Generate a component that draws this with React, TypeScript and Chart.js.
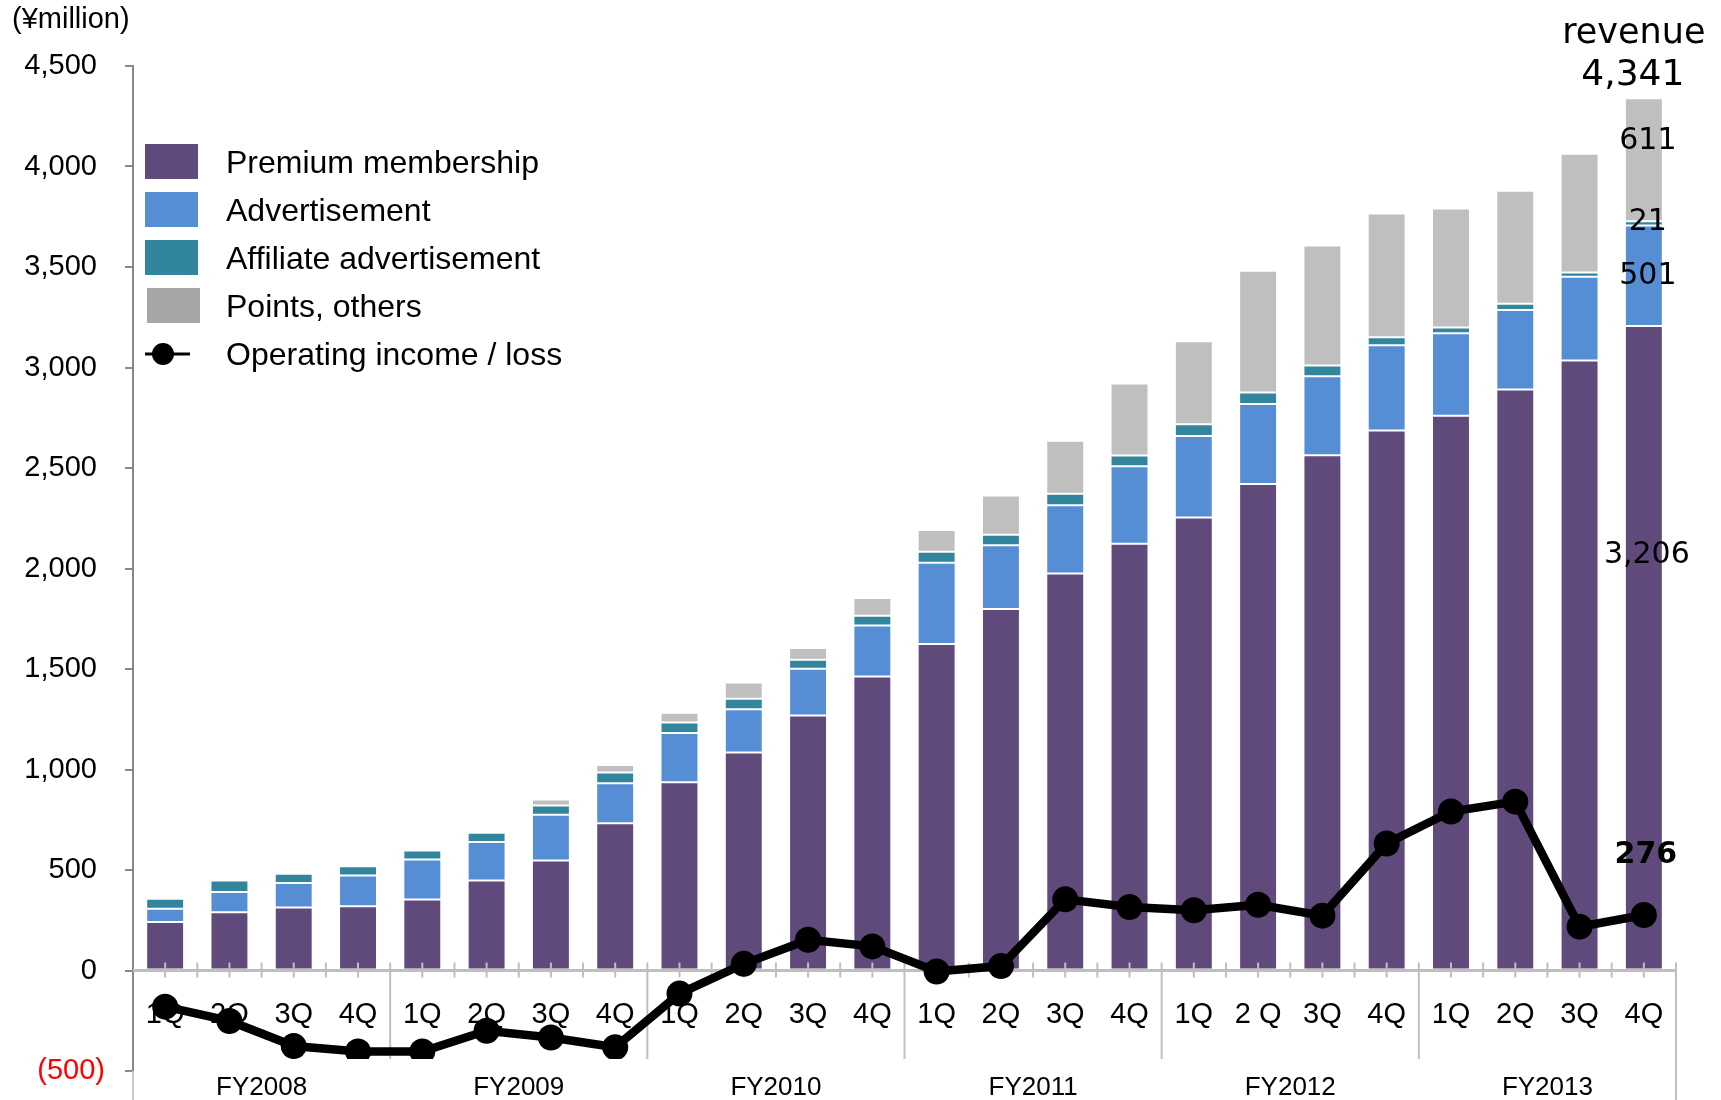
import React, { useEffect, useRef } from 'react';
import { Chart, registerables } from 'chart.js';

Chart.register(...registerables);

const quarters = ['1Q', '2Q', '3Q', '4Q', '1Q', '2Q', '3Q', '4Q', '1Q', '2Q', '3Q', '4Q', '1Q', '2Q', '3Q', '4Q', '1Q', '2 Q', '3Q', '4Q', '1Q', '2Q', '3Q', '4Q'];
const fiscalYears = ['FY2008', 'FY2009', 'FY2010', 'FY2011', 'FY2012', 'FY2013'];
const premium = [241, 290, 313, 320, 353, 448, 547, 733, 936, 1085, 1269, 1463, 1625, 1798, 1975, 2123, 2254, 2420, 2564, 2687, 2760, 2891, 3035, 3206];
const advertisement = [66, 100, 122, 153, 199, 191, 228, 199, 245, 215, 232, 253, 403, 318, 340, 386, 405, 398, 393, 424, 411, 395, 416, 501];
const affiliate = [50, 58, 46, 46, 45, 46, 46, 53, 53, 52, 45, 49, 55, 52, 57, 53, 59, 58, 53, 40, 28, 31, 22, 21];
const pointsOthers = [0, 0, 0, 0, 0, 7, 30, 38, 48, 81, 58, 88, 109, 195, 263, 358, 413, 605, 597, 615, 592, 562, 590, 611];
const operatingIncome = [-180, -251, -376, -403, -403, -300, -333, -382, -115, 33, 153, 120, -5, 22, 354, 316, 300, 327, 273, 632, 791, 840, 218, 276];
const revenueTotal = 4341;
const yMin = -500;
const yMax = 4500;
const yStep = 500;
const unitLabel = '(¥million)';

const COLORS = {
  premium: '#604A7B',
  ad: '#558ED5',
  affiliate: '#31859C',
  points: '#BFBFBF',
  pointsLegend: '#A6A6A6',
};

const fmt = (v: number) => Math.abs(v).toLocaleString('en-US');

const customDraw = {
  id: 'customDraw',
  beforeDatasetDraw(chart: any, args: any) {
    if (args.meta.type !== 'line') return;
    const { ctx, chartArea } = chart;
    const xs = chart.scales.x;
    const ys = chart.scales.y;
    const y0 = ys.getPixelForValue(0);
    const left = chartArea.left;
    const right = chartArea.right;
    const n = quarters.length;
    const catW = (right - left) / n;
    ctx.save();
    ctx.strokeStyle = '#BFBFBF';
    ctx.lineWidth = 3;
    ctx.beginPath();
    ctx.moveTo(left, y0);
    ctx.lineTo(right, y0);
    ctx.stroke();
    ctx.lineWidth = 2;
    for (let k = 1; k <= n * 2; k++) {
      const x = left + (k * catW) / 2;
      ctx.beginPath();
      if (k === n * 2) {
        ctx.moveTo(x, y0 - 8);
        ctx.lineTo(x, chart.height);
      } else if (k % 8 === 0) {
        ctx.moveTo(x, y0 - 8);
        ctx.lineTo(x, ys.getPixelForValue(yMin) - 12);
      } else {
        ctx.moveTo(x, y0 - 8);
        ctx.lineTo(x, y0 + 7);
      }
      ctx.stroke();
    }
    ctx.fillStyle = '#000';
    ctx.font = '29px "Liberation Sans", Arial, sans-serif';
    ctx.textAlign = 'center';
    ctx.textBaseline = 'middle';
    quarters.forEach((q, i) => {
      ctx.fillText(q, xs.getPixelForValue(i), y0 + 44);
    });
    ctx.restore();
  },
  afterDatasetsDraw(chart: any) {
    const { ctx, chartArea } = chart;
    const xs = chart.scales.x;
    const ys = chart.scales.y;
    const left = chartArea.left;
    const right = chartArea.right;
    const n = quarters.length;
    const catW = (right - left) / n;
    const cutY = ys.getPixelForValue(yMin) - 12;
    ctx.save();
    ctx.fillStyle = '#FFFFFF';
    ctx.fillRect(left + 1.5, cutY, right - left - 3, chart.height - cutY);
    ctx.strokeStyle = '#C8C8C8';
    ctx.lineWidth = 2;
    ctx.beginPath();
    ctx.moveTo(left, chartArea.bottom);
    ctx.lineTo(left, chart.height);
    ctx.stroke();
    ctx.strokeStyle = '#BFBFBF';
    ctx.beginPath();
    ctx.moveTo(right, cutY - 2);
    ctx.lineTo(right, chart.height);
    ctx.stroke();
    ctx.fillStyle = '#000';
    ctx.font = '26px "Liberation Sans", Arial, sans-serif';
    ctx.textAlign = 'center';
    ctx.textBaseline = 'middle';
    fiscalYears.forEach((fy, g) => {
      const cx = left + catW * (g * 4 + 2);
      ctx.fillText(fy, cx, ys.getPixelForValue(yMin) + 17);
    });

    ctx.textAlign = 'left';
    ctx.font = '29px "Liberation Sans", Arial, sans-serif';
    ctx.fillText(unitLabel, 12, 20);

    const legendItems = [
      { label: chart.data.datasets[1].label, color: COLORS.premium, kind: 'box' },
      { label: chart.data.datasets[2].label, color: COLORS.ad, kind: 'box' },
      { label: chart.data.datasets[3].label, color: COLORS.affiliate, kind: 'box' },
      { label: chart.data.datasets[4].label, color: COLORS.pointsLegend, kind: 'box' },
      { label: chart.data.datasets[0].label, color: '#000', kind: 'line' },
    ];
    ctx.font = '32px "Liberation Sans", Arial, sans-serif';
    legendItems.forEach((it, i) => {
      const cy = 162 + i * 48;
      if (it.kind === 'box') {
        ctx.fillStyle = it.color;
        ctx.fillRect(i === 3 ? 147 : 145, cy - 18, 53, 35);
      } else {
        ctx.strokeStyle = '#000';
        ctx.lineWidth = 3;
        ctx.beginPath();
        ctx.moveTo(145, cy);
        ctx.lineTo(190, cy);
        ctx.stroke();
        ctx.fillStyle = '#000';
        ctx.beginPath();
        ctx.arc(163, cy, 11, 0, Math.PI * 2);
        ctx.fill();
      }
      ctx.fillStyle = '#000';
      ctx.fillText(it.label, 226, cy + 2);
    });

    const last = quarters.length - 1;
    const bx = xs.getPixelForValue(last);
    const stackTop = premium[last] + advertisement[last] + affiliate[last] + pointsOthers[last];
    ctx.textAlign = 'center';
    ctx.fillStyle = '#000';
    ctx.font = '35px "DejaVu Sans", sans-serif';
    ctx.fillText('revenue', bx - 10, ys.getPixelForValue(stackTop) - 64);
    ctx.font = '36px "DejaVu Sans", sans-serif';
    ctx.fillText(fmt(revenueTotal), bx - 11, ys.getPixelForValue(stackTop) - 23);
    ctx.font = '30px "DejaVu Sans", sans-serif';
    ctx.fillText(fmt(pointsOthers[last]), bx + 4, ys.getPixelForValue(stackTop) + 43);
    ctx.fillText(fmt(affiliate[last]), bx + 4, ys.getPixelForValue(premium[last] + advertisement[last] + affiliate[last]) + 1);
    ctx.fillText(fmt(advertisement[last]), bx + 4, ys.getPixelForValue(premium[last] + advertisement[last] / 2));
    ctx.fillText(fmt(premium[last]), bx + 3, ys.getPixelForValue(premium[last]) + 229);
    ctx.font = 'bold 30px "DejaVu Sans", sans-serif';
    ctx.fillText(fmt(operatingIncome[last]), bx + 2, ys.getPixelForValue(operatingIncome[last]) - 60);
    ctx.restore();
  },
};

export default function App() {
  const canvasRef = useRef<HTMLCanvasElement | null>(null);

  useEffect(() => {
    const canvas = canvasRef.current;
    if (!canvas) return;
    const barCommon = {
      stack: 'revenue',
      order: 1,
      barPercentage: 0.59,
      categoryPercentage: 1,
      borderWidth: 1,
      borderColor: 'rgba(255,255,255,0.55)',
      borderSkipped: false,
    };
    const chart = new Chart(canvas, {
      type: 'bar',
      data: {
        labels: quarters,
        datasets: [
          {
            type: 'line',
            label: 'Operating income / loss',
            data: operatingIncome,
            stack: 'income',
            order: 0,
            borderColor: '#000',
            backgroundColor: '#000',
            borderWidth: 8.5,
            pointRadius: 13,
            pointHoverRadius: 13,
            pointBackgroundColor: '#000',
            pointBorderColor: '#000',
            pointBorderWidth: 0,
            tension: 0,
            clip: false,
          } as any,
          { label: 'Premium membership', data: premium, backgroundColor: COLORS.premium, ...barCommon },
          { label: 'Advertisement', data: advertisement, backgroundColor: COLORS.ad, ...barCommon },
          { label: 'Affiliate advertisement', data: affiliate, backgroundColor: COLORS.affiliate, ...barCommon },
          { label: 'Points, others', data: pointsOthers, backgroundColor: COLORS.points, ...barCommon },
        ],
      },
      options: {
        animation: false,
        responsive: false,
        devicePixelRatio: 1,
        layout: { padding: { left: 0, top: 66, right: 45, bottom: 29 } },
        plugins: {
          legend: { display: false },
          tooltip: { enabled: false },
        },
        scales: {
          x: {
            display: false,
            stacked: true,
          },
          y: {
            stacked: true,
            min: yMin,
            max: yMax,
            afterFit: (s: any) => {
              s.width = 133;
              s.paddingTop = 0;
              s.paddingBottom = 0;
            },
            ticks: {
              stepSize: yStep,
              padding: 20,
              color: (c: any) => (c.tick && c.tick.value < 0 ? '#FF0000' : '#000000'),
              font: { family: '"Liberation Sans", Arial, sans-serif', size: 29 },
              callback: (v: any) => (Number(v) < 0 ? `(${fmt(Number(v))})` : `${fmt(Number(v))} `),
            },
            grid: {
              display: true,
              drawOnChartArea: false,
              drawTicks: true,
              tickLength: 8,
              color: '#898989',
              lineWidth: 2,
            },
            border: { display: true, color: '#898989', width: 2 },
          },
        },
      },
      plugins: [customDraw],
    });
    return () => chart.destroy();
  }, []);

  return (
    <div style={{ position: 'absolute', left: 0, top: 0, width: 1721, height: 1100, background: '#fff' }}>
      <canvas ref={canvasRef} width={1721} height={1100} style={{ width: 1721, height: 1100 }} />
    </div>
  );
}
